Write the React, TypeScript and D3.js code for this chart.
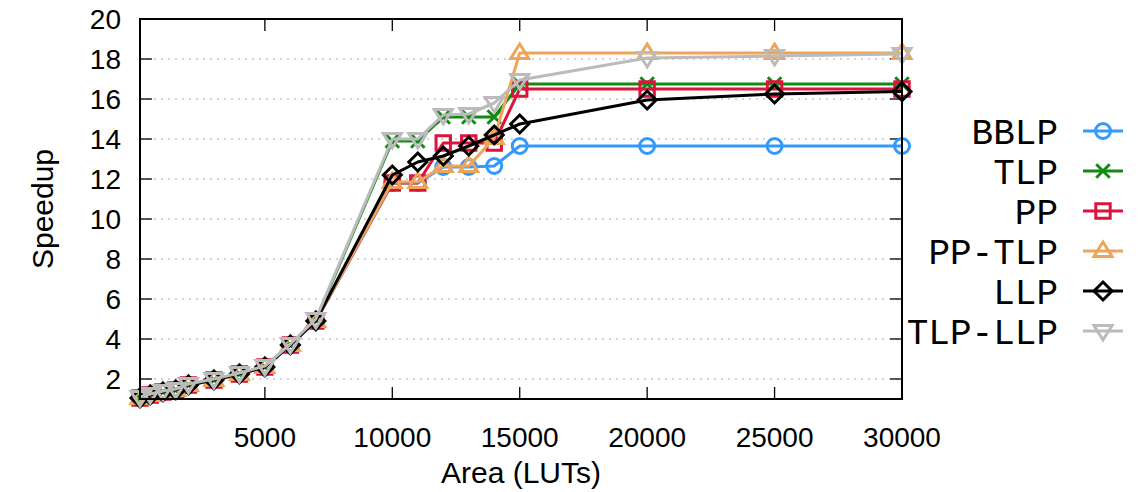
import React, { useEffect, useRef } from "react";
import * as d3 from "d3";

const areas = [100, 500, 1000, 1500, 2000, 3000, 4000, 5000, 6000, 7000, 10000, 11000, 12000, 13000, 14000, 15000, 20000, 25000, 30000];
const bblp = [1.05, 1.2, 1.35, 1.45, 1.7, 1.95, 2.25, 2.6, 3.7, 4.9, 11.8, 11.8, 12.6, 12.6, 12.65, 13.65, 13.65, 13.65, 13.65];
const tlp = [1.05, 1.2, 1.35, 1.45, 1.7, 1.95, 2.25, 2.6, 3.7, 4.95, 13.9, 13.9, 15.1, 15.1, 15.1, 16.75, 16.75, 16.75, 16.75];
const pp = [1.05, 1.2, 1.35, 1.45, 1.7, 1.95, 2.25, 2.6, 3.7, 4.9, 11.8, 11.8, 13.8, 13.8, 13.8, 16.5, 16.5, 16.5, 16.5];
const ppTlp = [1.05, 1.2, 1.35, 1.45, 1.7, 1.95, 2.25, 2.6, 3.7, 4.9, 11.85, 11.85, 12.65, 12.65, 14.05, 18.3, 18.3, 18.3, 18.3];
const llp = [1.05, 1.2, 1.35, 1.45, 1.7, 1.95, 2.25, 2.6, 3.7, 4.9, 12.2, 12.85, 13.15, 13.65, 14.2, 14.75, 15.95, 16.25, 16.37];
const tlpLlp = [1.1, 1.25, 1.4, 1.5, 1.75, 2.0, 2.3, 2.65, 3.75, 5.0, 14.0, 14.0, 15.2, 15.25, 15.8, 16.95, 18.05, 18.15, 18.25];

const seriesNames = ["BBLP", "TLP", "PP", "PP-TLP", "LLP", "TLP-LLP"];
const seriesValues = [bblp, tlp, pp, ppTlp, llp, tlpLlp];
const seriesColors = ["#3399ff", "#138a13", "#dc143c", "#eda55a", "#000000", "#bbbbbb"];
const seriesMarkers = ["circle", "cross", "square", "triUp", "diamond", "triDown"];

const yTicks = [2, 4, 6, 8, 10, 12, 14, 16, 18, 20];
const xTicks = [5000, 10000, 15000, 20000, 25000, 30000];

function markerPath(kind: string, s: number): string {
  switch (kind) {
    case "circle": {
      const r = s * 0.5;
      return `M${-r},0A${r},${r} 0 1,0 ${r},0A${r},${r} 0 1,0 ${-r},0Z`;
    }
    case "cross": {
      const r = s * 0.45;
      return `M${-r},${-r}L${r},${r}M${-r},${r}L${r},${-r}`;
    }
    case "square": {
      const r = s * 0.48;
      return `M${-r},${-r}H${r}V${r}H${-r}Z`;
    }
    case "triUp": {
      const r = s * 0.6;
      return `M0,${-r}L${r},${r * 0.6}L${-r},${r * 0.6}Z`;
    }
    case "triDown": {
      const r = s * 0.6;
      return `M0,${r}L${r},${-r * 0.6}L${-r},${-r * 0.6}Z`;
    }
    case "diamond": {
      const r = s * 0.6;
      return `M0,${-r}L${r},0L0,${r}L${-r},0Z`;
    }
  }
  return "";
}

export default function App() {
  const ref = useRef<SVGSVGElement>(null);
  useEffect(() => {
    const svg = d3.select(ref.current);
    svg.selectAll("*").remove();
    const L = 140, R = 902, T = 19, B = 399;
    const x = d3.scaleLinear().domain([100, 30000]).range([L, R]);
    const y = d3.scaleLinear().domain([1, 20]).range([B, T]);
    const sansFont = "'Liberation Sans', Arial, sans-serif";

    // grid
    svg.append("g").selectAll("line").data(yTicks.filter(t => t < 20)).join("line")
      .attr("x1", L).attr("x2", R).attr("y1", d => y(d)).attr("y2", d => y(d))
      .attr("stroke", "#a8a8a8").attr("stroke-width", 1).attr("stroke-dasharray", "2,5");

    // ticks
    const tk = svg.append("g").attr("stroke", "#000").attr("stroke-width", 1.3);
    yTicks.forEach(t => {
      tk.append("line").attr("x1", L).attr("x2", L + 12).attr("y1", y(t)).attr("y2", y(t));
      tk.append("line").attr("x1", R).attr("x2", R - 12).attr("y1", y(t)).attr("y2", y(t));
    });
    xTicks.forEach(t => {
      tk.append("line").attr("x1", x(t)).attr("x2", x(t)).attr("y1", B).attr("y2", B - 12);
      tk.append("line").attr("x1", x(t)).attr("x2", x(t)).attr("y1", T).attr("y2", T + 12);
    });

    // tick labels
    svg.append("g").selectAll("text").data(yTicks).join("text")
      .attr("x", 121).attr("y", d => y(d)).attr("dy", "0.36em")
      .attr("text-anchor", "end").attr("font-family", sansFont).attr("font-size", 28)
      .text(d => String(d));
    svg.append("g").selectAll("text").data(xTicks).join("text")
      .attr("x", d => x(d)).attr("y", 437).attr("dy", "0.36em")
      .attr("text-anchor", "middle").attr("font-family", sansFont).attr("font-size", 28)
      .text(d => String(d));
    svg.append("text").attr("x", 521).attr("y", 472).attr("dy", "0.36em")
      .attr("text-anchor", "middle").attr("font-family", sansFont).attr("font-size", 30)
      .text("Area (LUTs)");
    svg.append("text").attr("transform", `translate(42,${(T + B) / 2}) rotate(-90)`).attr("dy", "0.36em")
      .attr("text-anchor", "middle").attr("font-family", sansFont).attr("font-size", 30)
      .text("Speedup");

    // series
    const line = d3.line<number>().x((_, i) => x(areas[i])).y(d => y(d));
    seriesValues.forEach((vals, si) => {
      const g = svg.append("g");
      g.append("path").attr("d", line(vals) as string).attr("fill", "none")
        .attr("stroke", seriesColors[si]).attr("stroke-width", 3).attr("stroke-linejoin", "round");
      g.selectAll("path.m").data(vals).join("path").attr("class", "m")
        .attr("transform", (d, i) => `translate(${x(areas[i])},${y(d)})`)
        .attr("d", markerPath(seriesMarkers[si], 15))
        .attr("fill", "none").attr("stroke", seriesColors[si]).attr("stroke-width", 3);
    });

    // border
    svg.append("rect").attr("x", L).attr("y", T).attr("width", R - L).attr("height", B - T)
      .attr("fill", "none").attr("stroke", "#000").attr("stroke-width", 2);

    // legend
    const lg = svg.append("g");
    seriesNames.forEach((name, i) => {
      const cy = 131 + i * 40;
      lg.append("text").attr("x", 1058).attr("y", cy).attr("dy", "0.36em")
        .attr("text-anchor", "end").attr("font-family", "'Liberation Mono', 'Courier New', monospace")
        .attr("font-size", 36).text(name);
      lg.append("line").attr("x1", 1083).attr("x2", 1123).attr("y1", cy).attr("y2", cy)
        .attr("stroke", seriesColors[i]).attr("stroke-width", 3);
      lg.append("path").attr("transform", `translate(1103,${cy})`).attr("d", markerPath(seriesMarkers[i], 15))
        .attr("fill", "none").attr("stroke", seriesColors[i]).attr("stroke-width", 3);
    });
  }, []);
  return (
    <svg ref={ref} width={1144} height={492}
      style={{ position: "absolute", left: 0, top: 0, background: "#fff" }} />
  );
}
